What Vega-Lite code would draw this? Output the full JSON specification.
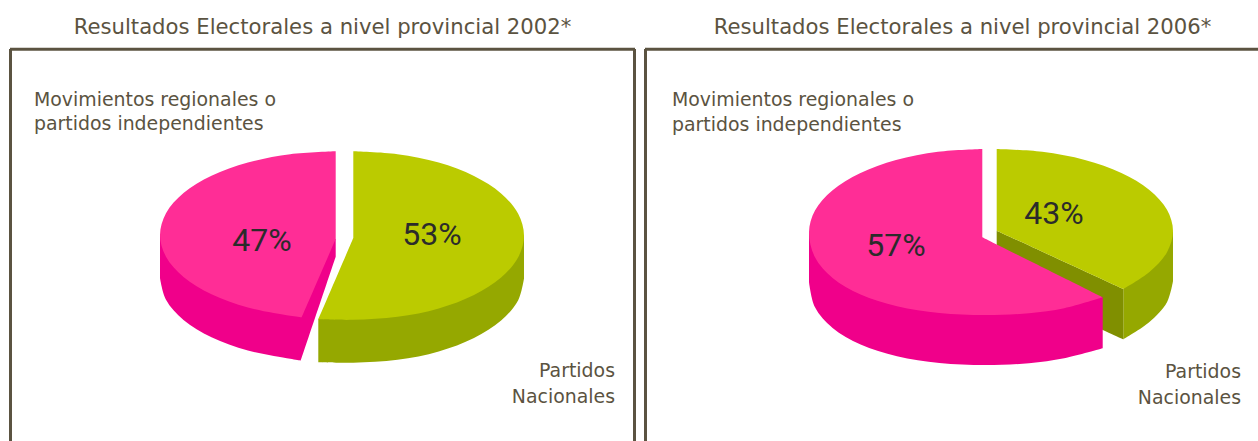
{"$schema":"https://vega.github.io/schema/vega-lite/v6.json","background":"white","padding":{"left":8,"top":17,"right":0,"bottom":0},"spacing":6,
"config":{"view":{"stroke":null},"title":{"font":"DejaVu Sans","fontSize":21.2,"fontWeight":"normal","color":"#5B5341","anchor":"middle","offset":9}},
"datasets":{"labels":[
{"panel":"2002","t":"Movimientos regionales o","x":34,"y":106,"kind":"izq"},
{"panel":"2002","t":"partidos independientes","x":34,"y":130,"kind":"izq"},
{"panel":"2002","t":"Partidos","x":615,"y":377,"kind":"der"},
{"panel":"2002","t":"Nacionales","x":615,"y":403,"kind":"der"},
{"panel":"2002","t":"47%","x":262,"y":251,"kind":"pct"},
{"panel":"2002","t":"53%","x":432,"y":245,"kind":"pct"},
{"panel":"2006","t":"Movimientos regionales o","x":672,"y":106,"kind":"izq"},
{"panel":"2006","t":"partidos independientes","x":672,"y":131,"kind":"izq"},
{"panel":"2006","t":"Partidos","x":1241,"y":378,"kind":"der"},
{"panel":"2006","t":"Nacionales","x":1241,"y":404,"kind":"der"},
{"panel":"2006","t":"57%","x":896,"y":256,"kind":"pct"},
{"panel":"2006","t":"43%","x":1054,"y":224,"kind":"pct"}],
"shapes":[
{"panel":"2002","part":"Movimientos lateral","i":0,"x":160,"y":235},{"panel":"2002","part":"Movimientos lateral","i":1,"x":160,"y":278},{"panel":"2002","part":"Movimientos lateral","i":2,"x":160,"y":278},{"panel":"2002","part":"Movimientos lateral","i":3,"x":166,"y":299.7},{"panel":"2002","part":"Movimientos lateral","i":4,"x":183.5,"y":319.9},{"panel":"2002","part":"Movimientos lateral","i":5,"x":211.5,"y":337.2},{"panel":"2002","part":"Movimientos lateral","i":6,"x":247.9,"y":350.5},{"panel":"2002","part":"Movimientos lateral","i":7,"x":290.2,"y":358.8},{"panel":"2002","part":"Movimientos lateral","i":8,"x":300.7,"y":360.7},{"panel":"2002","part":"Movimientos lateral","i":9,"x":300.7,"y":360.7},{"panel":"2002","part":"Movimientos lateral","i":10,"x":335.7,"y":256.7},{"panel":"2002","part":"Movimientos lateral","i":11,"x":335.7,"y":256.7},{"panel":"2002","part":"Movimientos lateral","i":12,"x":335.7,"y":239},
{"panel":"2002","part":"Movimientos","i":0,"x":335.7,"y":151.3},{"panel":"2002","part":"Movimientos","i":1,"x":335.7,"y":151.3},{"panel":"2002","part":"Movimientos","i":2,"x":290.2,"y":154.2},{"panel":"2002","part":"Movimientos","i":3,"x":247.9,"y":162.5},{"panel":"2002","part":"Movimientos","i":4,"x":211.5,"y":175.8},{"panel":"2002","part":"Movimientos","i":5,"x":183.5,"y":193.1},{"panel":"2002","part":"Movimientos","i":6,"x":166,"y":213.3},{"panel":"2002","part":"Movimientos","i":7,"x":160,"y":235},{"panel":"2002","part":"Movimientos","i":8,"x":166,"y":256.7},{"panel":"2002","part":"Movimientos","i":9,"x":183.5,"y":276.9},{"panel":"2002","part":"Movimientos","i":10,"x":211.5,"y":294.2},{"panel":"2002","part":"Movimientos","i":11,"x":247.9,"y":307.5},{"panel":"2002","part":"Movimientos","i":12,"x":290.2,"y":315.8},{"panel":"2002","part":"Movimientos","i":13,"x":301.7,"y":317.3},{"panel":"2002","part":"Movimientos","i":14,"x":301.7,"y":317.3},{"panel":"2002","part":"Movimientos","i":15,"x":335.7,"y":239},{"panel":"2002","part":"Movimientos","i":16,"x":335.7,"y":239},
{"panel":"2002","part":"Nacionales lateral","i":0,"x":524,"y":235.5},{"panel":"2002","part":"Nacionales lateral","i":1,"x":524,"y":278.5},{"panel":"2002","part":"Nacionales lateral","i":2,"x":524,"y":278.5},{"panel":"2002","part":"Nacionales lateral","i":3,"x":518.2,"y":300.3},{"panel":"2002","part":"Nacionales lateral","i":4,"x":501.1,"y":320.6},{"panel":"2002","part":"Nacionales lateral","i":5,"x":474,"y":338},{"panel":"2002","part":"Nacionales lateral","i":6,"x":438.7,"y":351.4},{"panel":"2002","part":"Nacionales lateral","i":7,"x":397.5,"y":359.8},{"panel":"2002","part":"Nacionales lateral","i":8,"x":353.3,"y":362.7},{"panel":"2002","part":"Nacionales lateral","i":9,"x":318.3,"y":362.3},{"panel":"2002","part":"Nacionales lateral","i":10,"x":318.3,"y":362.3},{"panel":"2002","part":"Nacionales lateral","i":11,"x":318.3,"y":319},
{"panel":"2002","part":"Nacionales","i":0,"x":353.3,"y":151.3},{"panel":"2002","part":"Nacionales","i":1,"x":353.3,"y":151.3},{"panel":"2002","part":"Nacionales","i":2,"x":397.5,"y":154.2},{"panel":"2002","part":"Nacionales","i":3,"x":438.7,"y":162.6},{"panel":"2002","part":"Nacionales","i":4,"x":474,"y":176},{"panel":"2002","part":"Nacionales","i":5,"x":501.1,"y":193.4},{"panel":"2002","part":"Nacionales","i":6,"x":518.2,"y":213.7},{"panel":"2002","part":"Nacionales","i":7,"x":524,"y":235.5},{"panel":"2002","part":"Nacionales","i":8,"x":518.2,"y":257.3},{"panel":"2002","part":"Nacionales","i":9,"x":501.1,"y":277.6},{"panel":"2002","part":"Nacionales","i":10,"x":474,"y":295},{"panel":"2002","part":"Nacionales","i":11,"x":438.7,"y":308.4},{"panel":"2002","part":"Nacionales","i":12,"x":397.5,"y":316.8},{"panel":"2002","part":"Nacionales","i":13,"x":353.3,"y":319.8},{"panel":"2002","part":"Nacionales","i":14,"x":318.3,"y":319.3},{"panel":"2002","part":"Nacionales","i":15,"x":318.3,"y":319.3},{"panel":"2002","part":"Nacionales","i":16,"x":353.3,"y":238},{"panel":"2002","part":"Nacionales","i":17,"x":353.3,"y":238},
{"panel":"2006","part":"Nacionales lateral","i":0,"x":1173,"y":231},{"panel":"2006","part":"Nacionales lateral","i":1,"x":1173,"y":281},{"panel":"2006","part":"Nacionales lateral","i":2,"x":1173,"y":281},{"panel":"2006","part":"Nacionales lateral","i":3,"x":1167,"y":302.2},{"panel":"2006","part":"Nacionales lateral","i":4,"x":1149.4,"y":322},{"panel":"2006","part":"Nacionales lateral","i":5,"x":1123.3,"y":339.3},{"panel":"2006","part":"Nacionales lateral","i":6,"x":1123.3,"y":339.3},{"panel":"2006","part":"Nacionales lateral","i":7,"x":1123.3,"y":289},
{"panel":"2006","part":"Nacionales corte","i":0,"x":996.7,"y":230.7},{"panel":"2006","part":"Nacionales corte","i":1,"x":996.7,"y":230.7},{"panel":"2006","part":"Nacionales corte","i":2,"x":1123.3,"y":289},{"panel":"2006","part":"Nacionales corte","i":3,"x":1123.3,"y":289},{"panel":"2006","part":"Nacionales corte","i":4,"x":1123.3,"y":339.3},{"panel":"2006","part":"Nacionales corte","i":5,"x":1123.3,"y":339.3},{"panel":"2006","part":"Nacionales corte","i":6,"x":996.7,"y":280.7},{"panel":"2006","part":"Nacionales corte","i":7,"x":996.7,"y":280.7},
{"panel":"2006","part":"Nacionales","i":0,"x":996.7,"y":149},{"panel":"2006","part":"Nacionales","i":1,"x":996.7,"y":149},{"panel":"2006","part":"Nacionales","i":2,"x":1042.3,"y":151.8},{"panel":"2006","part":"Nacionales","i":3,"x":1084.9,"y":160},{"panel":"2006","part":"Nacionales","i":4,"x":1121.4,"y":173},{"panel":"2006","part":"Nacionales","i":5,"x":1149.4,"y":190},{"panel":"2006","part":"Nacionales","i":6,"x":1167,"y":209.8},{"panel":"2006","part":"Nacionales","i":7,"x":1173,"y":231},{"panel":"2006","part":"Nacionales","i":8,"x":1167,"y":252.2},{"panel":"2006","part":"Nacionales","i":9,"x":1149.4,"y":272},{"panel":"2006","part":"Nacionales","i":10,"x":1123.3,"y":289},{"panel":"2006","part":"Nacionales","i":11,"x":1123.3,"y":289},{"panel":"2006","part":"Nacionales","i":12,"x":996.7,"y":230.7},{"panel":"2006","part":"Nacionales","i":13,"x":996.7,"y":230.7},
{"panel":"2006","part":"Movimientos lateral","i":0,"x":809,"y":232},{"panel":"2006","part":"Movimientos lateral","i":1,"x":809,"y":282},{"panel":"2006","part":"Movimientos lateral","i":2,"x":809,"y":282},{"panel":"2006","part":"Movimientos lateral","i":3,"x":815,"y":307.3},{"panel":"2006","part":"Movimientos lateral","i":4,"x":832.6,"y":327.9},{"panel":"2006","part":"Movimientos lateral","i":5,"x":860.6,"y":344.4},{"panel":"2006","part":"Movimientos lateral","i":6,"x":897,"y":356.2},{"panel":"2006","part":"Movimientos lateral","i":7,"x":939.4,"y":363},{"panel":"2006","part":"Movimientos lateral","i":8,"x":985,"y":365},{"panel":"2006","part":"Movimientos lateral","i":9,"x":1029,"y":363.2},{"panel":"2006","part":"Movimientos lateral","i":10,"x":1064.2,"y":358.2},{"panel":"2006","part":"Movimientos lateral","i":11,"x":1102.7,"y":348.3},{"panel":"2006","part":"Movimientos lateral","i":12,"x":1102.7,"y":348.3},{"panel":"2006","part":"Movimientos lateral","i":13,"x":1102.7,"y":297.3},
{"panel":"2006","part":"Movimientos","i":0,"x":982.3,"y":149},{"panel":"2006","part":"Movimientos","i":1,"x":982.3,"y":149},{"panel":"2006","part":"Movimientos","i":2,"x":938,"y":151.8},{"panel":"2006","part":"Movimientos","i":3,"x":896,"y":160.1},{"panel":"2006","part":"Movimientos","i":4,"x":860,"y":173.3},{"panel":"2006","part":"Movimientos","i":5,"x":832.3,"y":190.5},{"panel":"2006","part":"Movimientos","i":6,"x":815,"y":210.5},{"panel":"2006","part":"Movimientos","i":7,"x":809,"y":232},{"panel":"2006","part":"Movimientos","i":8,"x":815,"y":257.3},{"panel":"2006","part":"Movimientos","i":9,"x":832.6,"y":277.9},{"panel":"2006","part":"Movimientos","i":10,"x":860.6,"y":294.4},{"panel":"2006","part":"Movimientos","i":11,"x":897,"y":306.2},{"panel":"2006","part":"Movimientos","i":12,"x":939.4,"y":313},{"panel":"2006","part":"Movimientos","i":13,"x":985,"y":315},{"panel":"2006","part":"Movimientos","i":14,"x":1029,"y":313.2},{"panel":"2006","part":"Movimientos","i":15,"x":1064.2,"y":308.2},{"panel":"2006","part":"Movimientos","i":16,"x":1102.7,"y":297.3},{"panel":"2006","part":"Movimientos","i":17,"x":1102.7,"y":297.3},{"panel":"2006","part":"Movimientos","i":18,"x":982.3,"y":237.3},{"panel":"2006","part":"Movimientos","i":19,"x":982.3,"y":237.3}
]},
"hconcat":[
{"width":625,"height":392,"title":{"text":"Resultados Electorales a nivel provincial 2002*"},
"layer":[
{"data":{"name":"shapes"},"transform":[{"filter":"datum.panel === '2002'"}],"mark":{"type":"line","interpolate":"catmull-rom","filled":true,"strokeWidth":0},
"encoding":{"x":{"field":"x","type":"quantitative","axis":null,"scale":{"domain":[10,635],"nice":false,"zero":false}},"y":{"field":"y","type":"quantitative","axis":null,"scale":{"domain":[49,441],"reverse":true,"nice":false,"zero":false}},"order":{"field":"i","type":"quantitative"},"detail":{"field":"part"},"fill":{"field":"part","type":"nominal","legend":null,"scale":{"domain":["Movimientos","Movimientos lateral","Nacionales","Nacionales lateral","Nacionales corte"],"range":["#FF2D96","#F0008A","#BBCB00","#95A800","#808F00"]}}}},
{"data":{"values":[{"x":10.5},{"x":634.5}]},"mark":{"type":"rule","color":"#5B5341","strokeWidth":3},"encoding":{"x":{"field":"x","type":"quantitative"}}},
{"data":{"values":[{"y":49.3}]},"mark":{"type":"rule","color":"#5B5341","strokeWidth":3},"encoding":{"y":{"field":"y","type":"quantitative"}}},
{"data":{"name":"labels"},"transform":[{"filter":"datum.panel === '2002' && datum.kind === 'izq'"}],"mark":{"type":"text","font":"DejaVu Sans","fontSize":18.9,"color":"#5B5341","baseline":"alphabetic","align":"left"},"encoding":{"x":{"field":"x","type":"quantitative"},"y":{"field":"y","type":"quantitative"},"text":{"field":"t"}}},
{"data":{"name":"labels"},"transform":[{"filter":"datum.panel === '2002' && datum.kind === 'der'"}],"mark":{"type":"text","font":"DejaVu Sans","fontSize":18.9,"color":"#5B5341","baseline":"alphabetic","align":"right"},"encoding":{"x":{"field":"x","type":"quantitative"},"y":{"field":"y","type":"quantitative"},"text":{"field":"t"}}},
{"data":{"name":"labels"},"transform":[{"filter":"datum.panel === '2002' && datum.kind === 'pct'"}],"mark":{"type":"text","font":"Roboto","fontSize":32,"color":"#2B2B2B","baseline":"alphabetic","align":"center"},"encoding":{"x":{"field":"x","type":"quantitative"},"y":{"field":"y","type":"quantitative"},"text":{"field":"t"}}}
]},
{"width":613,"height":392,"title":{"text":"Resultados Electorales a nivel provincial 2006*","dx":11},
"layer":[
{"data":{"name":"shapes"},"transform":[{"filter":"datum.panel === '2006'"}],"mark":{"type":"line","interpolate":"catmull-rom","filled":true,"strokeWidth":0},
"encoding":{"x":{"field":"x","type":"quantitative","axis":null,"scale":{"domain":[645,1258],"nice":false,"zero":false}},"y":{"field":"y","type":"quantitative","axis":null,"scale":{"domain":[49,441],"reverse":true,"nice":false,"zero":false}},"order":{"field":"i","type":"quantitative"},"detail":{"field":"part"},"fill":{"field":"part","type":"nominal","legend":null,"scale":{"domain":["Movimientos","Movimientos lateral","Nacionales","Nacionales lateral","Nacionales corte"],"range":["#FF2D96","#F0008A","#BBCB00","#95A800","#808F00"]}}}},
{"data":{"values":[{"x":645.5}]},"mark":{"type":"rule","color":"#5B5341","strokeWidth":3},"encoding":{"x":{"field":"x","type":"quantitative"}}},
{"data":{"values":[{"y":49.3}]},"mark":{"type":"rule","color":"#5B5341","strokeWidth":3},"encoding":{"y":{"field":"y","type":"quantitative"}}},
{"data":{"name":"labels"},"transform":[{"filter":"datum.panel === '2006' && datum.kind === 'izq'"}],"mark":{"type":"text","font":"DejaVu Sans","fontSize":18.9,"color":"#5B5341","baseline":"alphabetic","align":"left"},"encoding":{"x":{"field":"x","type":"quantitative"},"y":{"field":"y","type":"quantitative"},"text":{"field":"t"}}},
{"data":{"name":"labels"},"transform":[{"filter":"datum.panel === '2006' && datum.kind === 'der'"}],"mark":{"type":"text","font":"DejaVu Sans","fontSize":18.9,"color":"#5B5341","baseline":"alphabetic","align":"right"},"encoding":{"x":{"field":"x","type":"quantitative"},"y":{"field":"y","type":"quantitative"},"text":{"field":"t"}}},
{"data":{"name":"labels"},"transform":[{"filter":"datum.panel === '2006' && datum.kind === 'pct'"}],"mark":{"type":"text","font":"Roboto","fontSize":32,"color":"#2B2B2B","baseline":"alphabetic","align":"center"},"encoding":{"x":{"field":"x","type":"quantitative"},"y":{"field":"y","type":"quantitative"},"text":{"field":"t"}}}
]}
]}
